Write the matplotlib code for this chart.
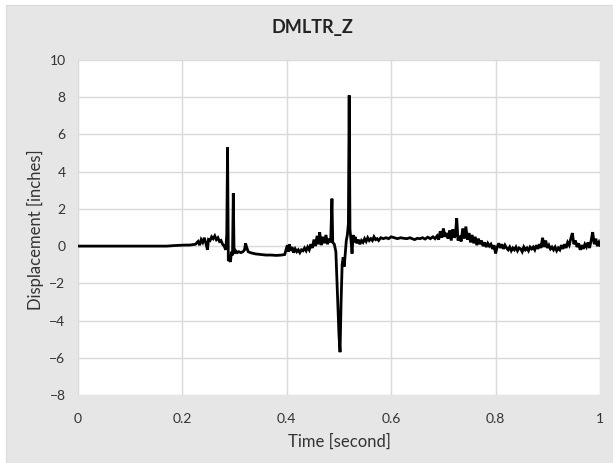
import matplotlib.pyplot as plt
from matplotlib.patches import Rectangle

plt.rcParams['font.family'] = ['Lato', 'DejaVu Sans']

# time [s] and displacement [in]
time = [
    0.000, 0.170, 0.185, 0.200, 0.215, 0.225, 0.230, 0.233, 0.236, 0.239,
    0.242, 0.245, 0.248, 0.250, 0.253, 0.256, 0.259, 0.262, 0.265, 0.268,
    0.271, 0.274, 0.277, 0.280, 0.283, 0.285, 0.2865, 0.288, 0.290, 0.292,
    0.294, 0.296, 0.2975, 0.299, 0.302, 0.305, 0.308, 0.312, 0.316, 0.319,
    0.321, 0.323, 0.326, 0.330, 0.340, 0.350, 0.360, 0.370, 0.380, 0.390,
    0.396, 0.399, 0.401, 0.403, 0.405, 0.407, 0.410, 0.413, 0.416, 0.419,
    0.422, 0.425, 0.428, 0.431, 0.434, 0.437, 0.440, 0.443, 0.446, 0.449,
    0.452, 0.455, 0.458, 0.461, 0.463, 0.466, 0.469, 0.472, 0.475, 0.478,
    0.481, 0.484, 0.4865, 0.488, 0.491, 0.494, 0.497, 0.500, 0.502, 0.504,
    0.506, 0.508, 0.510, 0.512, 0.514, 0.516, 0.518, 0.5195, 0.521, 0.523,
    0.525, 0.527, 0.529, 0.531, 0.534, 0.537, 0.540, 0.543, 0.546, 0.549,
    0.552, 0.555, 0.558, 0.561, 0.564, 0.567, 0.570, 0.573, 0.576, 0.580,
    0.585, 0.590, 0.595, 0.600, 0.606, 0.612, 0.618, 0.624, 0.630, 0.636,
    0.640, 0.645, 0.650, 0.655, 0.660, 0.665, 0.670, 0.675, 0.680, 0.684,
    0.688, 0.691, 0.694, 0.697, 0.700, 0.703, 0.706, 0.709, 0.712, 0.715,
    0.718, 0.721, 0.723, 0.7255, 0.728, 0.731, 0.734, 0.737, 0.740, 0.743,
    0.746, 0.749, 0.752, 0.755, 0.758, 0.761, 0.764, 0.767, 0.770, 0.773,
    0.776, 0.779, 0.782, 0.785, 0.788, 0.791, 0.794, 0.797, 0.800, 0.803,
    0.806, 0.809, 0.812, 0.815, 0.818, 0.821, 0.824, 0.827, 0.830, 0.833,
    0.836, 0.839, 0.842, 0.845, 0.848, 0.851, 0.854, 0.857, 0.860, 0.863,
    0.866, 0.869, 0.872, 0.875, 0.878, 0.881, 0.884, 0.887, 0.890, 0.893,
    0.896, 0.899, 0.902, 0.905, 0.908, 0.911, 0.914, 0.917, 0.920, 0.923,
    0.926, 0.929, 0.932, 0.935, 0.938, 0.941, 0.944, 0.947, 0.950, 0.953,
    0.956, 0.959, 0.962, 0.965, 0.968, 0.971, 0.974, 0.977, 0.980, 0.983,
    0.986, 0.989, 0.992, 0.995, 0.998, 1.000,
]
disp = [
    0.00, 0.00, 0.03, 0.05, 0.06, 0.10, 0.25, 0.05, 0.35, 0.20,
    0.45, 0.15, -0.20, 0.35, 0.30, 0.50, 0.40, 0.55, 0.35, 0.45,
    0.25, 0.30, 0.10, 0.00, -0.20, 0.60, 5.30, -0.80, -0.70, -0.85,
    -0.30, -0.50, 2.85, -0.40, -0.25, -0.35, -0.30, -0.35, -0.30, -0.20,
    0.15, -0.05, -0.30, -0.35, -0.42, -0.45, -0.48, -0.48, -0.50, -0.48,
    -0.45, -0.15, 0.05, -0.30, 0.10, -0.25, -0.05, -0.35, -0.15, -0.30,
    -0.20, -0.35, -0.20, -0.25, -0.10, -0.25, -0.05, -0.20, 0.10, -0.10,
    0.35, 0.00, 0.55, 0.10, 0.75, 0.05, 0.50, 0.15, 0.60, 0.10,
    0.40, 0.20, 2.55, 0.20, 0.10, -0.30, -2.50, -4.80, -5.70, -3.00,
    -1.00, -0.60, -1.10, -0.40, 0.30, 0.60, 1.20, 8.10, 0.90, 0.30,
    -0.40, 0.60, 0.20, 0.50, 0.15, 0.35, 0.10, 0.30, 0.20, 0.40,
    0.25, 0.45, 0.30, 0.40, 0.30, 0.50, 0.35, 0.40, 0.30, 0.45,
    0.40, 0.45, 0.40, 0.50, 0.45, 0.40, 0.45, 0.42, 0.40, 0.45,
    0.40, 0.35, 0.42, 0.40, 0.45, 0.38, 0.48, 0.40, 0.50, 0.40,
    0.55, 0.35, 0.80, 0.45, 0.95, 0.50, 0.70, 0.40, 0.85, 0.30,
    0.90, 0.45, 0.60, 1.50, 0.30, 0.55, 0.25, 0.95, 0.40, 1.05,
    0.35, 0.70, 0.20, 0.60, 0.15, 0.50, 0.05, 0.40, 0.10, 0.30,
    0.00, 0.20, -0.05, 0.15, 0.00, 0.10, -0.15, 0.05, -0.40, -0.05,
    0.15, -0.10, 0.10, -0.15, 0.05, -0.10, -0.20, -0.05, -0.25, -0.10,
    -0.20, -0.05, -0.25, -0.10, -0.15, -0.30, -0.05, -0.20, -0.10, -0.25,
    -0.05, -0.15, -0.05, -0.20, 0.05, -0.15, 0.10, -0.10, 0.45, -0.05,
    0.30, -0.10, 0.05, -0.15, -0.05, -0.20, -0.05, -0.25, -0.10, -0.20,
    0.05, -0.15, 0.10, -0.10, 0.20, 0.05, 0.40, 0.70, 0.10, 0.30,
    -0.05, 0.15, -0.20, 0.05, -0.15, 0.10, -0.05, 0.20, -0.10, 0.30,
    0.75, 0.10, 0.40, 0.00, 0.20, 0.05,
]

x_ticks = [0, 0.2, 0.4, 0.6, 0.8, 1]
x_labels = ['0', '0.2', '0.4', '0.6', '0.8', '1']
y_ticks = [-8, -6, -4, -2, 0, 2, 4, 6, 8, 10]

W, H = 613, 463
fig = plt.figure(figsize=(W / 100, H / 100), dpi=100, facecolor='white')
# grey chart area (Excel style), small white margin top/left
fig.patches.append(Rectangle((6 / W, 0), 1 - 6 / W, 1 - 5 / H, transform=fig.transFigure,
                             facecolor='#E6E6E6', edgecolor='#DADADA', lw=0.8, zorder=-10))

ax = fig.add_axes([78 / W, 1 - 395 / H, 522 / W, 335 / H])
ax.set_facecolor('white')
ax.plot(time, disp, color='black', lw=2.0, solid_joinstyle='miter', zorder=3)

ax.set_xlim(0, 1)
ax.set_ylim(-8, 10)
ax.set_xticks(x_ticks)
ax.set_xticklabels(x_labels)
ax.set_yticks(y_ticks)
ax.grid(True, color='#D9D9D9', lw=1.0)
ax.set_axisbelow(True)
for s in ax.spines.values():
    s.set_visible(False)
ax.tick_params(length=0, labelsize=10, labelcolor='#333333')
ax.tick_params(axis='x', pad=13)
ax.tick_params(axis='y', pad=9)

fig.text(312 / W, 1 - 27 / H, 'DMLTR_Z', ha='center', va='center',
         fontsize=13, fontweight='bold', color='#222222')
fig.text(339 / W, 1 - 442 / H, 'Time [second]', ha='center', va='center',
         fontsize=12, color='#333333')
fig.text(35 / W, 1 - 230 / H, 'Displacement [inches]', ha='center', va='center',
         rotation=90, fontsize=12, color='#333333')

fig.savefig('out.png', dpi=100)
